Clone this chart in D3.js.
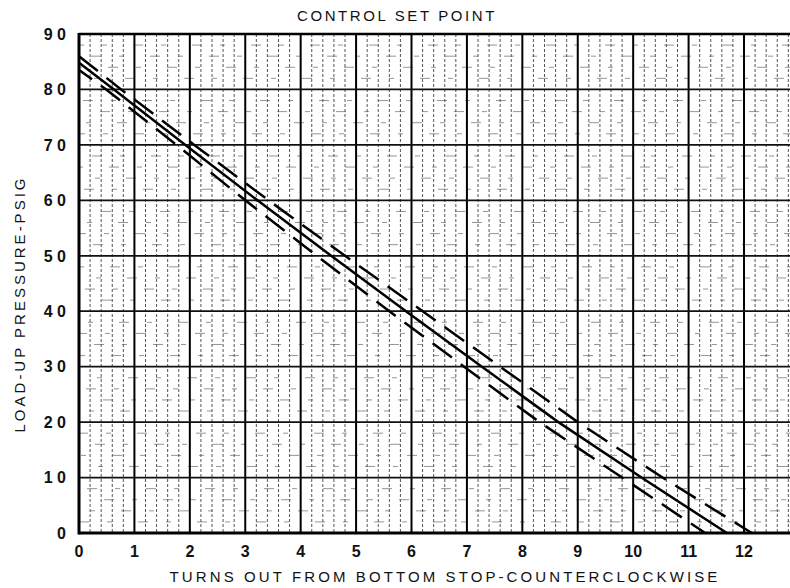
<!DOCTYPE html>
<html>
<head>
<meta charset="utf-8">
<script src="https://cdn.jsdelivr.net/npm/d3@7"></script>
<style>
  html, body { margin: 0; padding: 0; background: #fff; }
  svg { display: block; }
  text { font-family: "Liberation Sans", "DejaVu Sans", sans-serif; fill: #111; }
</style>
</head>
<body>
<svg id="chart" width="790" height="588"></svg>
<script>
// Calibration curve: load-up pressure vs. turns out from the bottom stop.
// Each line is a list of [turns, psig] readings.
const centerLine = [[0, 84.8], [0.63, 80], [1.92, 70], [3.22, 60], [4.55, 50], [5.90, 40], [7.27, 30], [8.65, 20], [10.15, 10], [11.69, 0]];
const upperLimit = [[0, 86.0], [0.76, 80], [2.08, 70], [3.42, 60], [4.80, 50], [6.20, 40], [7.60, 30], [9.00, 20], [10.53, 10], [12.14, 0]];
const lowerLimit = [[0, 83.5], [0.49, 80], [1.76, 70], [3.00, 60], [4.29, 50], [5.60, 40], [6.95, 30], [8.31, 20], [9.80, 10], [11.30, 0]];

const xTicks = [0, 1, 2, 3, 4, 5, 6, 7, 8, 9, 10, 11, 12];
const yTicks = [0, 10, 20, 30, 40, 50, 60, 70, 80, 90];
const yTickLabels = ["0", "1 0", "2 0", "3 0", "4 0", "5 0", "6 0", "7 0", "8 0", "9 0"];

const titleText = "CONTROL SET POINT";
const xTitle = "TURNS OUT FROM BOTTOM STOP-COUNTERCLOCKWISE";
const yTitle = "LOAD-UP PRESSURE-PSIG";

const svg = d3.select("#chart");
const plotL = 79, plotT = 34, plotB = 533, plotR = 790;

const x = d3.scaleLinear().domain([0, 12.83]).range([plotL, plotR]);
const y = d3.scaleLinear().domain([0, 90]).range([plotB, plotT]);

const grid = svg.append("g");

// minor horizontal rules every 2 psig (faint, broken)
const minorY = d3.range(2, 90, 2).filter(v => v % 10 !== 0);
grid.selectAll("line.mhy").data(minorY).join("line")
  .attr("x1", plotL).attr("x2", plotR)
  .attr("y1", d => y(d)).attr("y2", d => y(d))
  .attr("stroke", "#8a8a8a").attr("stroke-width", 0.9)
  .attr("stroke-dasharray", "10,18,5,26")
  .attr("stroke-dashoffset", (d, i) => (i * 17) % 59);

// minor vertical rules every 0.2 turn
const minorX = d3.range(0, 12.81, 0.2).filter(v => Math.abs(v - Math.round(v)) > 1e-6);
grid.selectAll("line.mvx").data(minorX).join("line")
  .attr("x1", d => x(d)).attr("x2", d => x(d))
  .attr("y1", plotT).attr("y2", plotB)
  .attr("stroke", "#555").attr("stroke-width", 1)
  .attr("stroke-dasharray", "3,2");

// major vertical rules every turn
grid.selectAll("line.vx").data(d3.range(1, 13)).join("line")
  .attr("x1", d => x(d)).attr("x2", d => x(d))
  .attr("y1", plotT).attr("y2", plotB)
  .attr("stroke", "#000").attr("stroke-width", 2);

// major horizontal rules every 10 psig
grid.selectAll("line.hy").data(d3.range(10, 90, 10)).join("line")
  .attr("x1", plotL).attr("x2", plotR)
  .attr("y1", d => y(d)).attr("y2", d => y(d))
  .attr("stroke", "#111").attr("stroke-width", 1.7);

// frame: top, left and bottom edges
svg.append("line").attr("x1", plotL).attr("x2", plotR).attr("y1", y(90)).attr("y2", y(90))
  .attr("stroke", "#000").attr("stroke-width", 2.5);
svg.append("line").attr("x1", x(0)).attr("x2", x(0)).attr("y1", plotT - 1).attr("y2", plotB + 1.5)
  .attr("stroke", "#000").attr("stroke-width", 3);
svg.append("line").attr("x1", plotL).attr("x2", plotR).attr("y1", y(0)).attr("y2", y(0))
  .attr("stroke", "#000").attr("stroke-width", 3);

// curves
const line = d3.line().x(d => x(d[0])).y(d => y(d[1]));
const curves = svg.append("g").attr("fill", "none").attr("stroke", "#000");
curves.append("path").datum(centerLine).attr("d", line).attr("stroke-width", 2.5);
curves.append("path").datum(upperLimit).attr("d", line).attr("stroke-width", 2.5)
  .attr("stroke-dasharray", "24,11");
curves.append("path").datum(lowerLimit).attr("d", line).attr("stroke-width", 2.5)
  .attr("stroke-dasharray", "24,11").attr("stroke-dashoffset", 8);

// y tick labels
svg.append("g").selectAll("text").data(yTicks).join("text")
  .attr("x", 66).attr("y", d => y(d)).attr("dy", "0.36em")
  .attr("text-anchor", "end").attr("font-size", 16).attr("font-weight", "bold")
  .text((d, i) => yTickLabels[i]);

// x tick labels
svg.append("g").selectAll("text").data(xTicks).join("text")
  .attr("x", d => x(d)).attr("y", 557)
  .attr("text-anchor", "middle").attr("font-size", 16).attr("font-weight", "bold")
  .text(d => String(d));

// titles
svg.append("text").attr("x", 397).attr("y", 21).attr("text-anchor", "middle")
  .attr("font-size", 15).attr("letter-spacing", 2.6).text(titleText);
svg.append("text").attr("x", 445).attr("y", 582).attr("text-anchor", "middle")
  .attr("font-size", 15).attr("letter-spacing", 3.1).text(xTitle);
svg.append("text").attr("transform", "translate(25,304) rotate(-90)").attr("text-anchor", "middle")
  .attr("font-size", 15).attr("letter-spacing", 3.0).text(yTitle);
</script>
</body>
</html>
